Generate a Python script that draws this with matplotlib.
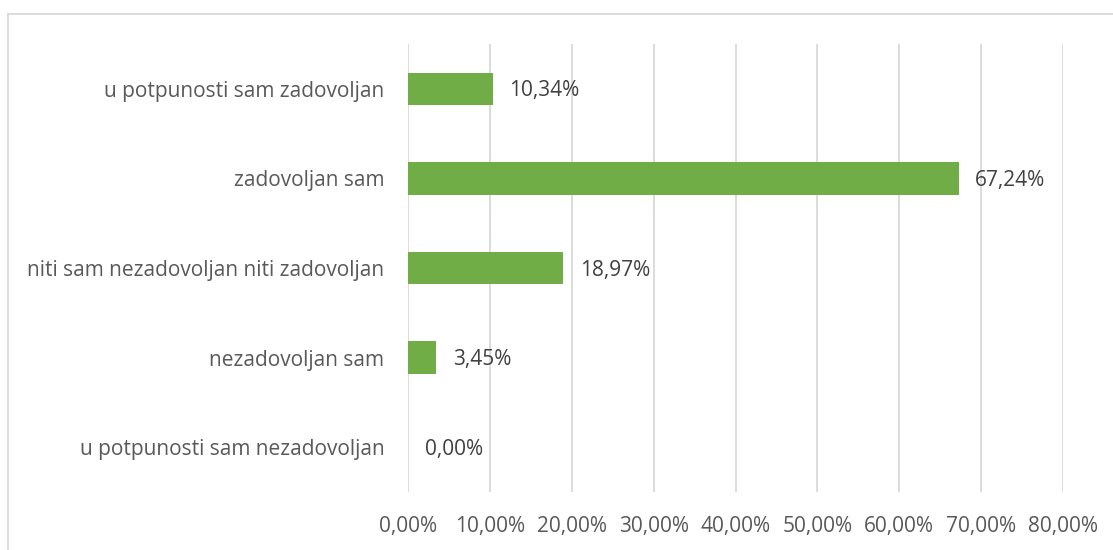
import matplotlib.pyplot as plt
from matplotlib.lines import Line2D
from matplotlib.ticker import FuncFormatter

plt.rcParams['font.family'] = ['Open Sans', 'DejaVu Sans']

categories = ['u potpunosti sam nezadovoljan', 'nezadovoljan sam',
              'niti sam nezadovoljan niti zadovoljan', 'zadovoljan sam',
              'u potpunosti sam zadovoljan']
values = [0.00, 3.45, 18.97, 67.24, 10.34]
xticks = [0, 10, 20, 30, 40, 50, 60, 70, 80]

text_col = '#595959'
grid_col = '#d9d9d9'


def pct(v, pos=None):
    return f'{v:.2f}'.replace('.', ',') + '%'


fig = plt.figure(figsize=(11.13, 5.5), dpi=100)
ax = fig.add_axes([408 / 1113, 1 - 492 / 550, (1063 - 408) / 1113, 448 / 550])

ax.barh(range(len(categories)), values, height=0.36, color='#70ad47', zorder=3)
for i, v in enumerate(values):
    ax.annotate(pct(v), (v, i), xytext=(12, -1.5), textcoords='offset points',
                va='center', ha='left', fontsize=15, color='#404040')

ax.set_xlim(0, 80)
ax.set_ylim(-0.5, len(categories) - 0.5)
ax.set_xticks(xticks)
ax.xaxis.set_major_formatter(FuncFormatter(pct))
ax.set_yticks(range(len(categories)))
ax.set_yticklabels(categories)
ax.tick_params(axis='both', length=0, labelsize=15, labelcolor=text_col)
ax.tick_params(axis='x', pad=17)
ax.tick_params(axis='y', pad=17)
ax.grid(axis='x', color=grid_col, linewidth=1.3, zorder=0)
for s in ax.spines.values():
    s.set_visible(False)

# outer chart frame (top and left edges visible)
fig.add_artist(Line2D([8 / 1113, 1], [1 - 14 / 550, 1 - 14 / 550],
                      transform=fig.transFigure, color=grid_col, linewidth=1.3))
fig.add_artist(Line2D([8 / 1113, 8 / 1113], [0, 1 - 14 / 550],
                      transform=fig.transFigure, color=grid_col, linewidth=1.3))

fig.savefig('out.png', dpi=100)
